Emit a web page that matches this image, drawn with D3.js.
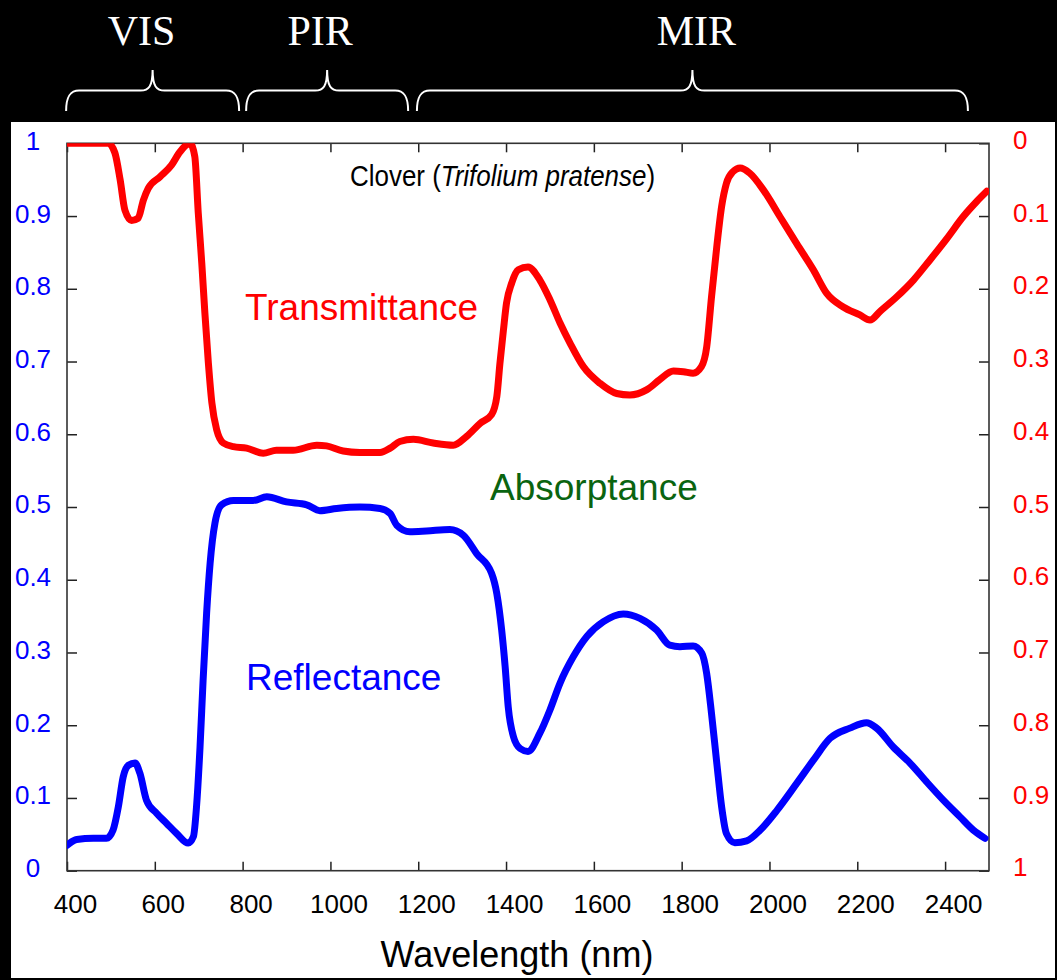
<!DOCTYPE html>
<html>
<head>
<meta charset="utf-8">
<script src="https://cdn.jsdelivr.net/npm/d3@7"></script>
<style>
  html, body { margin: 0; padding: 0; background: #000; }
  svg { display: block; }
  text { font-family: "Liberation Sans", Arial, Helvetica, sans-serif; }
</style>
</head>
<body>
<svg id="chart" width="1057" height="980"></svg>
<script>
// ---------- DATA ----------
const transWavelengths = [400, 494, 509, 521, 532, 547, 562, 574, 585, 612, 638, 657, 680, 691, 699, 707, 714, 722, 730, 741, 756, 779, 809, 847, 877, 915, 969, 991, 1029, 1067, 1113, 1136, 1158, 1189, 1234, 1280, 1310, 1341, 1367, 1379, 1386, 1394, 1401, 1413, 1428, 1450, 1477, 1500, 1523, 1546, 1576, 1614, 1652, 1682, 1720, 1750, 1781, 1804, 1826, 1845, 1857, 1868, 1880, 1891, 1902, 1917, 1933, 1955, 1986, 2024, 2062, 2100, 2130, 2168, 2206, 2229, 2252, 2290, 2328, 2366, 2404, 2441, 2472, 2495];
const transmittance = [0, 0, 0.013, 0.05, 0.092, 0.106, 0.103, 0.078, 0.062, 0.046, 0.03, 0.012, 0, 0.018, 0.096, 0.165, 0.233, 0.302, 0.357, 0.394, 0.412, 0.417, 0.419, 0.426, 0.422, 0.422, 0.415, 0.416, 0.423, 0.425, 0.425, 0.419, 0.41, 0.407, 0.412, 0.415, 0.403, 0.385, 0.373, 0.348, 0.303, 0.257, 0.22, 0.192, 0.174, 0.17, 0.188, 0.215, 0.247, 0.275, 0.307, 0.33, 0.344, 0.346, 0.339, 0.325, 0.313, 0.314, 0.316, 0.307, 0.28, 0.211, 0.142, 0.087, 0.055, 0.039, 0.034, 0.041, 0.064, 0.101, 0.138, 0.174, 0.206, 0.225, 0.236, 0.243, 0.231, 0.211, 0.188, 0.16, 0.131, 0.101, 0.08, 0.066];

const reflWavelengths = [400, 422, 460, 490, 505, 517, 528, 540, 555, 566, 581, 604, 627, 650, 676, 688, 695, 703, 710, 718, 726, 737, 752, 779, 824, 855, 900, 946, 976, 1014, 1067, 1113, 1136, 1151, 1181, 1219, 1272, 1303, 1333, 1367, 1379, 1390, 1398, 1405, 1417, 1432, 1450, 1477, 1500, 1523, 1553, 1584, 1621, 1667, 1705, 1743, 1773, 1796, 1826, 1846, 1857, 1868, 1880, 1891, 1902, 1921, 1948, 1979, 2017, 2062, 2100, 2138, 2183, 2221, 2244, 2282, 2320, 2358, 2396, 2434, 2464, 2491];
const reflectance = [0.035, 0.043, 0.0445, 0.0445, 0.056, 0.088, 0.129, 0.145, 0.148, 0.134, 0.097, 0.079, 0.065, 0.051, 0.038, 0.047, 0.088, 0.17, 0.262, 0.354, 0.423, 0.478, 0.503, 0.509, 0.509, 0.514, 0.507, 0.503, 0.495, 0.498, 0.5, 0.498, 0.491, 0.475, 0.466, 0.467, 0.469, 0.461, 0.436, 0.409, 0.381, 0.331, 0.28, 0.225, 0.184, 0.168, 0.164, 0.189, 0.221, 0.258, 0.294, 0.322, 0.342, 0.353, 0.347, 0.331, 0.31, 0.308, 0.309, 0.299, 0.271, 0.216, 0.148, 0.088, 0.051, 0.0385, 0.041, 0.056, 0.083, 0.12, 0.152, 0.182, 0.196, 0.2035, 0.196, 0.17, 0.148, 0.122, 0.097, 0.074, 0.056, 0.0445];

const xTicks = [400, 600, 800, 1000, 1200, 1400, 1600, 1800, 2000, 2200, 2400];
const yTicks = [0, 0.1, 0.2, 0.3, 0.4, 0.5, 0.6, 0.7, 0.8, 0.9, 1];

const regionNames = ["VIS", "PIR", "MIR"];
const regionStart = [398, 808, 1197];
const regionEnd = [792, 1177, 2452];

const titlePlain = "Clover (";
const titleItalic = "Trifolium pratense";
const titleClose = ")";
const xAxisTitle = "Wavelength (nm)";
const curveLabels = ["Transmittance", "Absorptance", "Reflectance"];

// ---------- LAYOUT ----------
const svg = d3.select("#chart");
const L = 67, R = 989, T = 143.3, B = 870.7;

const x = d3.scaleLinear().domain([400, 2500]).range([L, R]);
const yL = d3.scaleLinear().domain([0, 1]).range([B, T]);
const yR = d3.scaleLinear().domain([0, 1]).range([T, B]);

// background
svg.append("rect").attr("x", 0).attr("y", 0).attr("width", 1057).attr("height", 980).attr("fill", "#000");
svg.append("rect").attr("x", 11).attr("y", 122).attr("width", 1044).attr("height", 856).attr("fill", "#fff");

// clip
svg.append("defs").append("clipPath").attr("id", "plotclip")
  .append("rect").attr("x", L).attr("y", T).attr("width", R - L).attr("height", B - T);

// header: region labels and braces
const regionLabelDx = [-11, -7, 4];
regionNames.forEach((name, i) => {
  const x0 = x(regionStart[i]), x1 = x(regionEnd[i]);
  const xm = (x0 + x1) / 2;
  const yEnd = 111, yMid = 90.5, yTip = 70;
  const p = d3.path();
  p.moveTo(x0, yEnd);
  p.bezierCurveTo(x0, yMid + 6, x0 + 4, yMid, x0 + 13, yMid);
  p.lineTo(xm - 12, yMid);
  p.bezierCurveTo(xm - 4, yMid, xm, yMid - 4, xm, yTip);
  p.bezierCurveTo(xm, yMid - 4, xm + 4, yMid, xm + 12, yMid);
  p.lineTo(x1 - 13, yMid);
  p.bezierCurveTo(x1 - 4, yMid, x1, yMid + 6, x1, yEnd);
  svg.append("path").attr("d", p.toString())
    .attr("fill", "none").attr("stroke", "#fff").attr("stroke-width", 2);
  svg.append("text")
    .attr("x", xm + regionLabelDx[i]).attr("y", 45)
    .attr("text-anchor", "middle")
    .style("font-family", "'Liberation Serif', 'Times New Roman', serif")
    .style("font-size", "42px")
    .attr("fill", "#fff")
    .text(name);
});

// axes
const axisG = svg.append("g");
const fmt = d3.format("~g");

const gB = axisG.append("g").attr("transform", `translate(0,${B})`)
  .call(d3.axisBottom(x).tickValues(xTicks).tickSize(-9).tickSizeOuter(0).tickPadding(23.5).tickFormat(d3.format("d")));
gB.selectAll("text").attr("dx", 8).style("font-size", "26px").attr("fill", "#000")
  .style("font-family", "'Liberation Sans', Arial, sans-serif");

const gT = axisG.append("g").attr("transform", `translate(0,${T})`)
  .call(d3.axisTop(x).tickValues(xTicks).tickSize(-9).tickSizeOuter(0).tickFormat(""));

const gL = axisG.append("g").attr("transform", `translate(${L},0)`)
  .call(d3.axisLeft(yL).tickValues(yTicks).tickSize(-10).tickSizeOuter(0).tickFormat(fmt));
gL.selectAll("text").attr("x", -34).attr("text-anchor", "middle").attr("dy", "0.23em")
  .style("font-size", "26px").attr("fill", "#0000ff")
  .style("font-family", "'Liberation Sans', Arial, sans-serif");

const gR = axisG.append("g").attr("transform", `translate(${R},0)`)
  .call(d3.axisRight(yR).tickValues(yTicks).tickSize(-10).tickSizeOuter(0).tickPadding(24).tickFormat(fmt));
gR.selectAll("text").attr("text-anchor", "start").attr("dy", "0.2em")
  .style("font-size", "26px").attr("fill", "#ff0000")
  .style("font-family", "'Liberation Sans', Arial, sans-serif");

axisG.selectAll(".tick line").attr("stroke", "#222").attr("stroke-width", 1.5);
axisG.selectAll(".domain").attr("stroke", "none");

// frame
svg.append("rect").attr("x", L).attr("y", T).attr("width", R - L).attr("height", B - T)
  .attr("fill", "none").attr("stroke", "#333").attr("stroke-width", 1.6);

// curves
const transData = transWavelengths.map((w, i) => [w, transmittance[i]]);
const reflData = reflWavelengths.map((w, i) => [w, reflectance[i]]);

const plot = svg.append("g").attr("clip-path", "url(#plotclip)");
plot.append("path").datum(transData)
  .attr("d", d3.line().x(d => x(d[0])).y(d => yR(d[1])).curve(d3.curveMonotoneX))
  .attr("fill", "none").attr("stroke", "#ff0000").attr("stroke-width", 7)
  .attr("stroke-linejoin", "round").attr("stroke-linecap", "round");
plot.append("path").datum(reflData)
  .attr("d", d3.line().x(d => x(d[0])).y(d => yL(d[1])).curve(d3.curveMonotoneX))
  .attr("fill", "none").attr("stroke", "#0000ff").attr("stroke-width", 7)
  .attr("stroke-linejoin", "round").attr("stroke-linecap", "round");

// title (slightly condensed like the reference)
const title = svg.append("text").attr("transform", "translate(350,186) scale(0.895,1)")
  .attr("x", 0).attr("y", 0)
  .style("font-size", "29px").attr("fill", "#000");
title.append("tspan").text(titlePlain);
title.append("tspan").style("font-style", "italic").text(titleItalic);
title.append("tspan").text(titleClose);

// curve labels
const labelColors = ["#ff0000", "#0a6410", "#0000ff"];
const labelPos = [[245, 320], [490, 500], [246, 690]];
curveLabels.forEach((t, i) => {
  svg.append("text").attr("x", labelPos[i][0]).attr("y", labelPos[i][1])
    .style("font-size", "37px").attr("fill", labelColors[i]).text(t);
});

// x axis title
svg.append("text").attr("x", 517).attr("y", 967).attr("text-anchor", "middle")
  .style("font-size", "36px").attr("fill", "#000").text(xAxisTitle);
</script>
</body>
</html>
